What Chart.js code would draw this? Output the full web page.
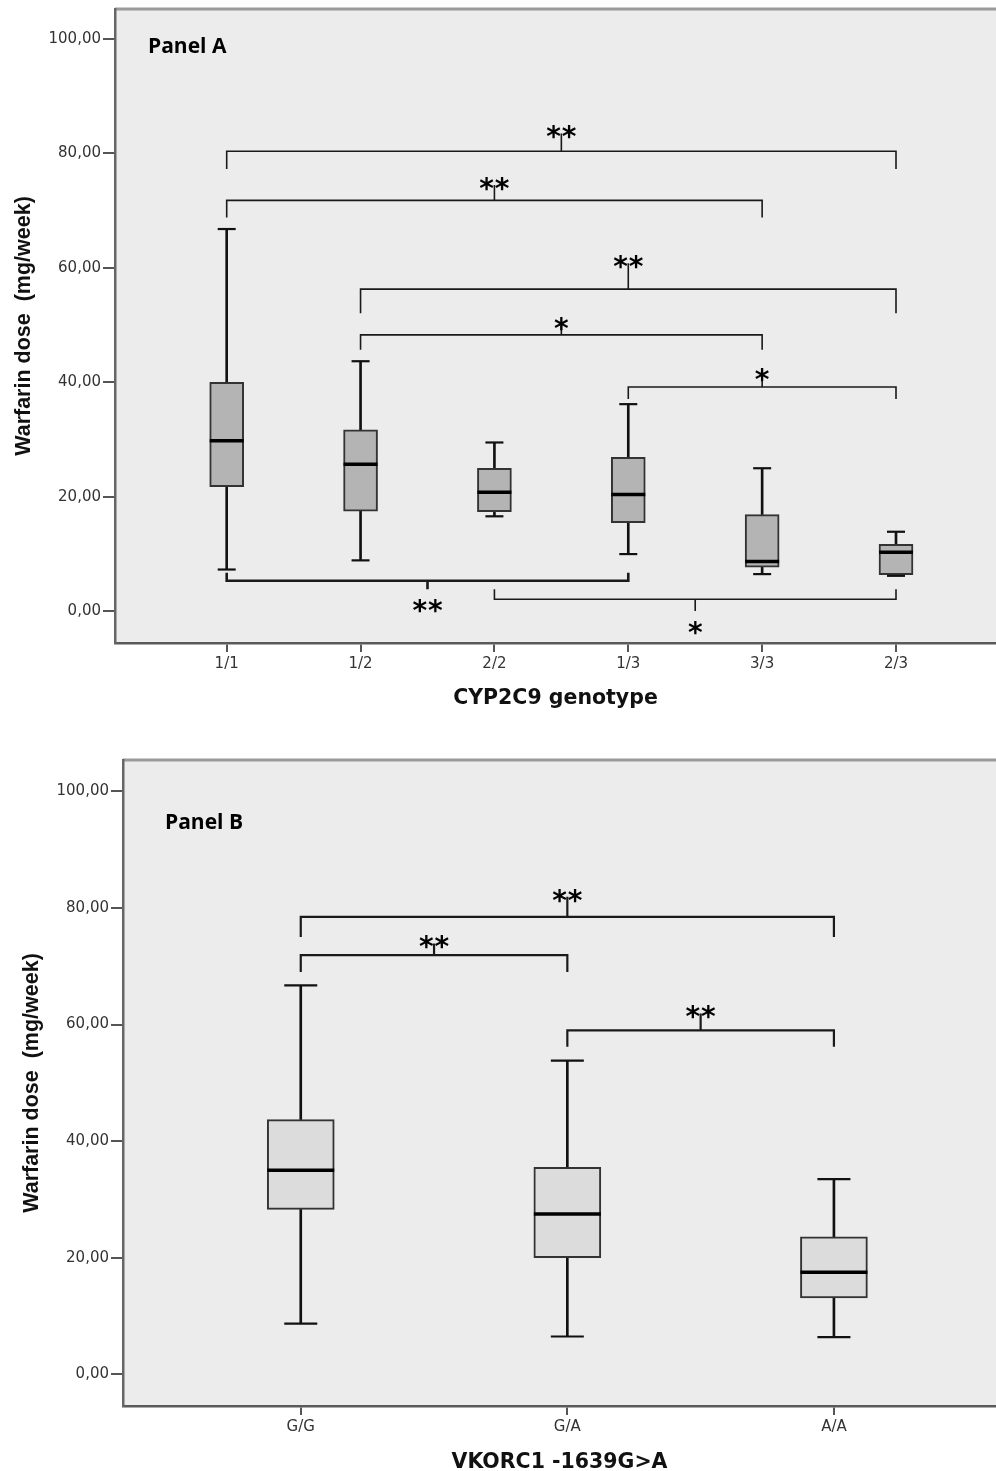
<!DOCTYPE html>
<html><head><meta charset="utf-8">
<script src="https://cdn.jsdelivr.net/npm/chart.js@4.4.1/dist/chart.umd.min.js"></script>
<style>
html,body{margin:0;padding:0;background:#fff;width:996px;height:1471px;overflow:hidden}
.wrap{position:absolute;left:0;width:996px}
canvas{display:block}
</style></head><body>
<div class="wrap" style="top:0;height:735px"><canvas id="cA" width="996" height="735" style="width:996px;height:735px"></canvas></div>
<div class="wrap" style="top:735px;height:736px"><canvas id="cB" width="996" height="736" style="width:996px;height:736px"></canvas></div>
<script>
// ---------- Panel A data (CYP2C9 genotype) ----------
const genotypesA = ['1/1', '1/2', '2/2', '1/3', '3/3', '2/3'];
const lowA  = [7.3, 8.9, 16.6, 10.0, 6.5, 6.2];
const q1A   = [21.8, 17.5, 17.4, 15.5, 7.7, 6.4];
const medA  = [29.8, 25.7, 20.8, 20.4, 8.7, 10.3];
const q3A   = [40.0, 31.7, 25.0, 26.9, 16.9, 11.7];
const highA = [66.8, 43.7, 29.5, 36.2, 25.0, 13.9];
const brFromA  = ['1/1', '1/1', '1/2', '1/2', '1/3', '1/1', '2/2'];
const brToA    = ['2/3', '3/3', '2/3', '3/3', '2/3', '1/3', '2/3'];
const brLevelA = [80.4, 71.8, 56.3, 48.3, 39.2, 5.35, 2.1];
const brLegA   = [77.3, 68.8, 52.1, 45.7, 37.1, 6.75, 3.85];
const brTipA   = [83.5, 74.5, 60.8, 50.0, 41.0, 3.85, 0.05];
const brStarsA = ['**', '**', '**', '*', '*', '**', '*'];

// ---------- Panel B data (VKORC1 -1639G>A) ----------
const genotypesB = ['G/G', 'G/A', 'A/A'];
const lowB  = [8.7, 6.5, 6.4];
const q1B   = [28.3, 20.0, 13.1];
const medB  = [35.0, 27.5, 17.5];
const q3B   = [43.7, 35.5, 23.6];
const highB = [66.7, 53.8, 33.5];
const brFromB  = ['G/G', 'G/G', 'G/A'];
const brToB    = ['A/A', 'G/A', 'A/A'];
const brLevelB = [78.45, 71.9, 59.0];
const brLegB   = [75.0, 69.0, 56.2];
const brTipB   = [81.9, 73.9, 61.9];
const brStarsB = ['**', '**', '**'];

// ---------- shared axis data ----------
const yTickValues = [0, 20, 40, 60, 80, 100];
const yTitle = 'Warfarin dose  (mg/week)';
const xTitleA = 'CYP2C9 genotype';
const xTitleB = 'VKORC1 -1639G>A';
const panelTitleA = 'Panel A';
const panelTitleB = 'Panel B';

const fmt = v => v.toFixed(2).replace('.', ',');

function makePanel(canvas, d, s) {
  const cats = d.cats;
  const pos = c => cats.indexOf(c) + 1;
  const datasets = [];
  datasets.push({type: 'bar', data: cats.map((c, i) => ({x: i + 1, y: [d.low[i], d.q1[i]]})),
    backgroundColor: '#111', barThickness: 2, grouped: false, order: 7});
  datasets.push({type: 'bar', data: cats.map((c, i) => ({x: i + 1, y: [d.q3[i], d.high[i]]})),
    backgroundColor: '#111', barThickness: 2, grouped: false, order: 7});
  datasets.push({type: 'bar', data: cats.map((c, i) => ({x: i + 1, y: [d.q1[i], d.q3[i]]})),
    backgroundColor: s.boxFill, borderColor: '#333', borderWidth: 2, borderSkipped: false,
    barThickness: s.boxW, grouped: false, order: 6});
  datasets.push({type: 'line', showLine: false,
    data: cats.map((c, i) => ({x: i + 1, y: d.low[i]})).concat(cats.map((c, i) => ({x: i + 1, y: d.high[i]}))),
    pointStyle: 'line', pointRadius: s.capW / 2, pointBorderWidth: 2.2, pointBorderColor: '#111', order: 4});
  datasets.push({type: 'line', showLine: false,
    data: cats.map((c, i) => ({x: i + 1, y: d.med[i]})),
    pointStyle: 'line', pointRadius: s.boxW / 2, pointBorderWidth: 3.5, pointBorderColor: '#000', order: 3});
  d.brFrom.forEach((f, k) => {
    const a = pos(f), b = pos(d.brTo[k]), m = (a + b) / 2;
    datasets.push({type: 'line', order: 1,
      data: [{x: a, y: d.brLeg[k]}, {x: a, y: d.brLevel[k]}, {x: m, y: d.brLevel[k]}, {x: m, y: d.brTip[k]},
             {x: m, y: d.brLevel[k]}, {x: b, y: d.brLevel[k]}, {x: b, y: d.brLeg[k]}],
      borderColor: '#1a1a1a', borderWidth: s.brWidths[k], pointRadius: 0, tension: 0, fill: false,
      borderJoinStyle: 'miter', borderCapStyle: 'butt'});
  });

  const decor = {
    id: 'decor',
    beforeDraw(chart) {
      const {ctx, chartArea: ca} = chart;
      ctx.save();
      ctx.fillStyle = '#ececec';
      ctx.fillRect(ca.left, ca.top, ca.right - ca.left, ca.bottom - ca.top);
      ctx.strokeStyle = '#9a9a9a';
      ctx.lineWidth = 3;
      ctx.beginPath();
      ctx.moveTo(ca.left, ca.top); ctx.lineTo(ca.right, ca.top);
      ctx.stroke();
      ctx.restore();
    },
    afterDatasetsDraw(chart) {
      const {ctx, chartArea: ca} = chart;
      const xs = chart.scales.x, ys = chart.scales.y;
      ctx.save();
      ctx.fillStyle = '#000';
      ctx.font = 'bold 28px "DejaVu Sans"';
      ctx.textAlign = 'center';
      ctx.textBaseline = 'alphabetic';
      d.brFrom.forEach((f, k) => {
        const m = (pos(f) + pos(d.brTo[k])) / 2;
        const up = d.brTip[k] > d.brLevel[k];
        const px = xs.getPixelForValue(m);
        const py = ys.getPixelForValue(d.brTip[k]) + (up ? -2 : 16);
        const chars = d.brStars[k].split('');
        const step = 15.5;
        chars.forEach((ch, j) => {
          ctx.fillText(ch, px + (j - (chars.length - 1) / 2) * step, py + 14.8);
        });
      });
      ctx.font = 'bold 21px "Open Sans"';
      ctx.textAlign = 'left';
      ctx.fillText(d.panelTitle, ca.left + s.titleDx, ca.top + s.titleDy);
      ctx.restore();
    }
  };

  return new Chart(canvas, {
    type: 'bar',
    data: {datasets},
    plugins: [decor],
    options: {
      responsive: false, animation: false, events: [],
      layout: {autoPadding: false, padding: {top: s.top, left: 0, right: 0, bottom: 0}},
      plugins: {legend: {display: false}, tooltip: {enabled: false}, title: {display: false}},
      scales: {
        x: {
          type: 'linear', min: s.xMin, max: s.xMax, offset: false,
          afterFit(sc) { sc.height = s.xAxisH; sc.paddingLeft = 0; sc.paddingRight = 0; },
          afterBuildTicks(sc) { sc.ticks = cats.map((c, i) => ({value: i + 1})); },
          ticks: {callback: v => cats[Math.round(v) - 1], autoSkip: false, maxRotation: 0, minRotation: 0,
            font: {family: 'DejaVu Sans', size: 15}, color: '#333', padding: 3},
          grid: {offset: false, drawOnChartArea: false, drawTicks: true, tickLength: 9, color: '#555', lineWidth: 2},
          border: {display: true, color: '#5a5a5a', width: 2.5},
          title: {display: true, text: d.xTitle, color: '#111',
            font: {family: 'DejaVu Sans', weight: 'bold', size: 20.5}, padding: {bottom: s.xTitlePad}}
        },
        y: {
          type: 'linear', min: s.yMin, max: s.yMax,
          afterFit(sc) { sc.width = s.yAxisW; sc.paddingTop = 0; sc.paddingBottom = 0; },
          afterBuildTicks(sc) { sc.ticks = yTickValues.map(v => ({value: v})); },
          ticks: {callback: v => fmt(v), font: {family: 'DejaVu Sans', size: 15}, color: '#333', padding: 2},
          grid: {drawOnChartArea: false, drawTicks: true, tickLength: 12, color: '#555', lineWidth: 2},
          border: {display: true, color: '#666', width: 2.5},
          title: {display: true, text: yTitle, color: '#111',
            font: {family: 'Liberation Sans', weight: 'bold', size: 21.5}, padding: {top: s.yTitlePad}}
        }
      }
    }
  });
}

makePanel(document.getElementById('cA'),
  {cats: genotypesA, low: lowA, q1: q1A, med: medA, q3: q3A, high: highA,
   brFrom: brFromA, brTo: brToA, brLevel: brLevelA, brLeg: brLegA, brTip: brTipA, brStars: brStarsA,
   xTitle: xTitleA, panelTitle: panelTitleA},
  {top: 9, yAxisW: 115, xAxisH: 92, xMin: 0.1656, xMax: 6.747, yMin: -5.54, yMax: 105.25,
   boxW: 34, capW: 18, boxFill: '#b4b4b4', brWidths: [1.6, 1.6, 1.6, 1.6, 1.6, 2.6, 1.6],
   xTitlePad: 24, yTitlePad: 11, titleDx: 33, titleDy: 44});

makePanel(document.getElementById('cB'),
  {cats: genotypesB, low: lowB, q1: q1B, med: medB, q3: q3B, high: highB,
   brFrom: brFromB, brTo: brToB, brLevel: brLevelB, brLeg: brLegB, brTip: brTipB, brStars: brStarsB,
   xTitle: xTitleB, panelTitle: panelTitleB},
  {top: 25, yAxisW: 123, xAxisH: 65, xMin: 0.3332, xMax: 3.608, yMin: -5.42, yMax: 105.36,
   boxW: 67, capW: 33, boxFill: '#dcdcdc', brWidths: [2.2, 2.2, 2.2],
   xTitlePad: -4, yTitlePad: 19, titleDx: 42, titleDy: 69});
</script>
</body></html>
